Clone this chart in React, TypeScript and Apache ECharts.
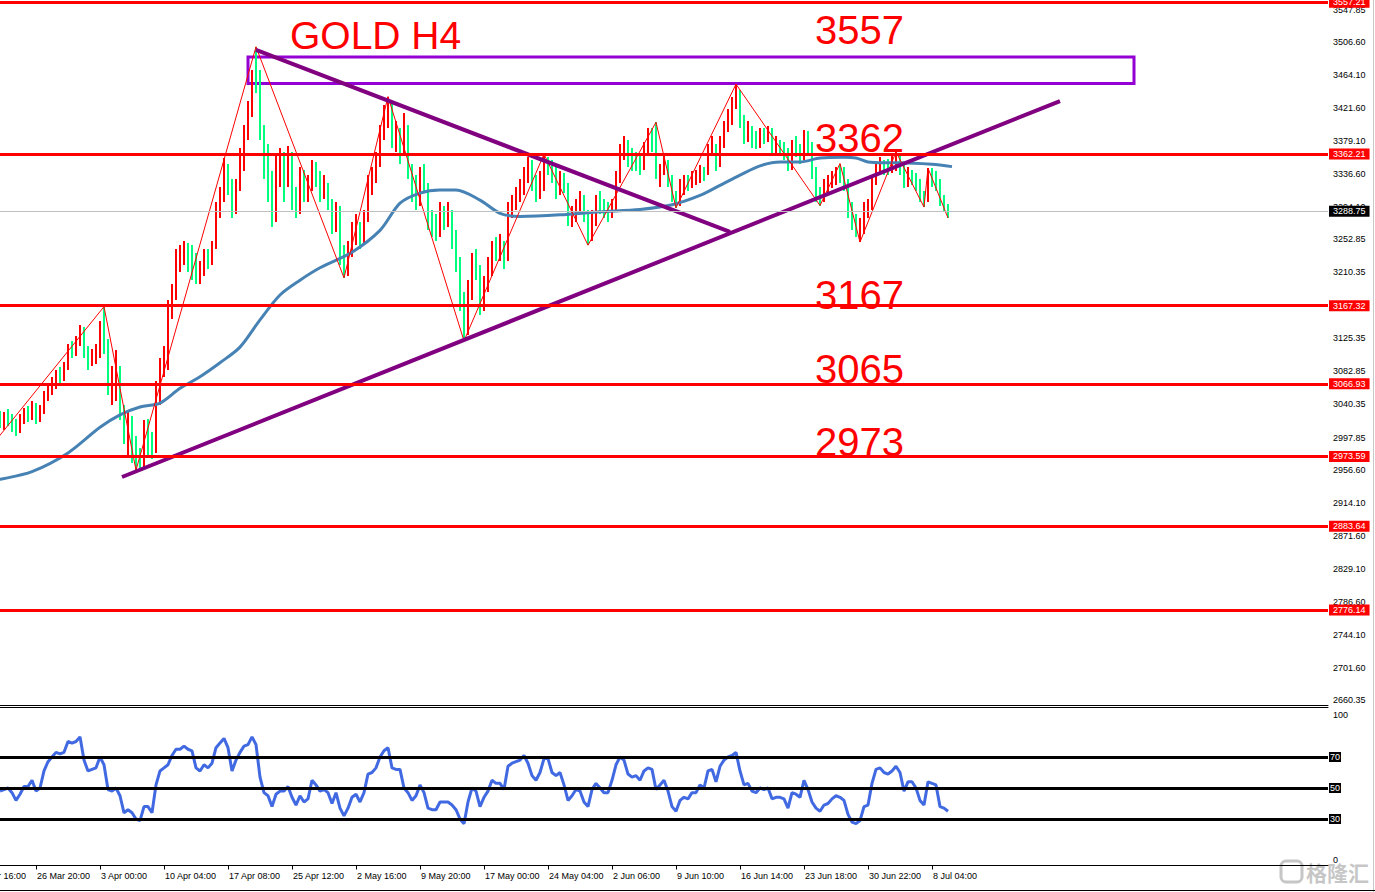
import React, { useEffect, useRef } from "react";
import * as echarts from "echarts";

// ---------- data ----------
const OFFSET = 8; // category index of first visible bar
const N_CATS = 341;

const opens = [3025,3015,3026,3020,3012,3005,3022,3030,3025,3040,3020,3032,3055,3062,3070,3080,3076,3090,3112,3108,3122,3138,3110,3095,3100,3108,3140,3120,3060,3078,3085,3030,2995,3015,2990,2965,2962,3010,2990,2978,3060,3090,3105,3165,3185,3230,3235,3245,3230,3225,3200,3205,3230,3222,3240,3290,3310,3345,3320,3290,3320,3360,3390,3420,3465,3450,3390,3345,3320,3280,3340,3350,3345,3360,3305,3288,3330,3310,3320,3348,3335,3315,3320,3300,3270,3290,3235,3210,3240,3262,3270,3250,3280,3325,3335,3355,3390,3415,3425,3380,3385,3365,3395,3340,3320,3300,3335,3320,3275,3265,3262,3285,3280,3285,3255,3225,3175,3135,3190,3225,3215,3170,3195,3215,3240,3235,3238,3225,3290,3300,3310,3320,3338,3350,3325,3310,3318,3348,3345,3335,3315,3325,3322,3280,3282,3295,3305,3285,3255,3280,3300,3298,3288,3285,3295,3335,3365,3375,3355,3350,3348,3345,3370,3385,3375,3335,3342,3350,3330,3305,3298,3320,3325,3322,3332,3333,3340,3338,3368,3372,3345,3378,3398,3410,3428,3435,3405,3385,3390,3380,3378,3388,3385,3390,3368,3372,3370,3365,3345,3370,3368,3360,3388,3372,3340,3310,3302,3320,3325,3332,3340,3335,3325,3290,3272,3262,3268,3292,3295,3330,3345,3348,3342,3340,3348,3355,3345,3322,3335,3332,3325,3305,3300,3335,3332,3328,3300,3292];
const closes = [3015,3026,3020,3012,3005,3022,3030,3025,3040,3020,3032,3055,3062,3070,3080,3076,3090,3112,3108,3122,3138,3110,3095,3100,3108,3140,3120,3060,3078,3085,3030,2995,3015,2990,2965,2962,3010,2990,2978,3060,3090,3105,3165,3185,3230,3235,3245,3230,3225,3200,3205,3230,3222,3240,3290,3310,3345,3320,3290,3320,3360,3390,3420,3465,3450,3390,3345,3320,3280,3340,3350,3345,3360,3305,3288,3330,3310,3320,3348,3335,3315,3320,3300,3270,3290,3235,3210,3240,3262,3270,3250,3280,3325,3335,3355,3390,3415,3425,3380,3385,3365,3395,3340,3320,3300,3335,3320,3275,3265,3262,3285,3280,3285,3255,3225,3175,3135,3190,3225,3215,3170,3195,3215,3240,3235,3238,3225,3290,3300,3310,3320,3338,3350,3325,3310,3318,3348,3345,3335,3315,3325,3322,3280,3282,3295,3305,3285,3255,3280,3300,3298,3288,3285,3295,3335,3365,3375,3355,3350,3348,3345,3370,3385,3375,3335,3342,3350,3330,3305,3298,3320,3325,3322,3332,3333,3340,3338,3368,3372,3345,3378,3398,3410,3428,3435,3405,3385,3390,3380,3378,3388,3385,3390,3368,3372,3370,3365,3345,3370,3368,3360,3388,3372,3340,3310,3302,3320,3325,3332,3340,3335,3325,3290,3272,3262,3268,3292,3295,3330,3345,3348,3342,3340,3348,3355,3345,3322,3335,3332,3325,3305,3300,3335,3332,3328,3300,3292,3288.75];
const lows = [3010,3008,3012,3005,3000,3004,3015,3018,3020,3015,3018,3028,3045,3052,3060,3068,3070,3085,3100,3102,3115,3100,3085,3090,3092,3100,3105,3052,3040,3045,3020,2990,2975,2965,2956,2958,2960,2975,2970,2978,3040,3075,3085,3150,3175,3210,3220,3210,3200,3195,3195,3205,3215,3220,3240,3280,3300,3310,3280,3285,3315,3340,3380,3410,3440,3380,3330,3300,3268,3275,3320,3300,3320,3290,3280,3285,3300,3300,3315,3320,3300,3305,3290,3260,3262,3220,3203,3205,3230,3245,3240,3248,3275,3310,3325,3345,3380,3395,3370,3365,3350,3360,3330,3300,3290,3295,3315,3265,3255,3250,3255,3265,3268,3240,3210,3160,3122,3130,3175,3200,3155,3160,3185,3205,3225,3225,3215,3225,3280,3290,3300,3310,3325,3315,3300,3305,3315,3335,3325,3305,3310,3312,3270,3268,3275,3285,3275,3245,3250,3270,3285,3280,3275,3280,3290,3325,3355,3345,3340,3340,3335,3342,3360,3365,3330,3320,3335,3320,3300,3293,3295,3310,3315,3318,3322,3325,3328,3335,3360,3340,3345,3370,3390,3400,3420,3395,3375,3378,3370,3368,3370,3375,3378,3360,3360,3362,3355,3340,3342,3358,3350,3355,3360,3330,3300,3296,3300,3310,3318,3322,3325,3315,3280,3265,3255,3249,3260,3280,3290,3322,3335,3335,3335,3338,3340,3335,3318,3320,3322,3315,3300,3294,3300,3320,3315,3295,3288,3280];
const highs = [3032,3030,3035,3028,3022,3028,3036,3038,3045,3042,3040,3058,3068,3075,3085,3088,3095,3118,3122,3128,3142,3140,3115,3112,3118,3148,3166,3125,3090,3110,3090,3040,3030,3025,3000,2985,3020,3022,3005,3070,3100,3115,3175,3195,3240,3245,3250,3248,3245,3235,3225,3240,3240,3250,3300,3320,3357,3350,3330,3330,3370,3400,3430,3470,3500,3470,3400,3375,3340,3360,3370,3365,3372,3365,3320,3345,3342,3335,3355,3352,3340,3335,3325,3305,3300,3295,3245,3250,3275,3285,3275,3290,3335,3345,3365,3400,3425,3436,3430,3405,3395,3415,3400,3350,3335,3345,3350,3325,3290,3285,3300,3295,3300,3290,3265,3230,3185,3200,3235,3240,3220,3205,3230,3250,3255,3260,3250,3300,3310,3320,3330,3345,3358,3355,3335,3340,3362,3358,3355,3345,3340,3338,3325,3295,3305,3315,3310,3290,3290,3310,3315,3305,3300,3305,3340,3375,3385,3380,3370,3365,3360,3378,3395,3395,3403,3350,3360,3355,3335,3315,3330,3335,3335,3340,3342,3348,3345,3375,3385,3375,3385,3405,3420,3435,3452,3445,3412,3405,3398,3392,3395,3395,3398,3395,3385,3380,3378,3370,3380,3385,3375,3393,3392,3378,3345,3320,3330,3335,3340,3345,3350,3345,3330,3300,3285,3280,3300,3305,3335,3352,3358,3355,3356,3360,3365,3360,3350,3345,3342,3338,3330,3315,3344,3344,3340,3330,3310,3298];

const rsiValues = [48,49,50,47,42,46,51,51,55,48,50,61,67,70,73,72,73,80,79,80,83,68,61,62,63,70,65,49,48,50,45,34,36,34,30,29,38,38,34,52,61,63,65,71,75,75,77,75,74,63,61,65,63,66,76,79,82,76,61,68,73,77,78,83,78,57,47,45,38,46,48,48,51,44,39,45,41,43,55,52,48,49,47,40,47,37,32,37,44,46,41,47,59,60,63,70,74,76,63,62,62,50,47,42,45,52,47,37,36,36,41,41,41,39,36,30,27,41,50,48,38,44,48,55,53,53,49,64,66,67,68,71,66,58,55,60,69,69,60,58,60,52,42,45,49,48,41,38,49,53,50,47,47,55,65,70,68,59,57,58,55,61,63,62,49,52,55,48,38,35,42,44,43,47,47,52,50,61,62,54,64,68,70,71,73,61,52,53,48,47,50,49,50,43,44,44,43,37,47,46,44,55,49,41,37,35,39,40,43,45,44,42,33,28,27,29,38,39,53,62,63,60,59,61,64,60,48,54,54,50,42,39,54,53,52,38,37,35];

const maBars = [-8,0,8,17,25,30,35,40,45,50,55,60,65,70,75,80,88,95,100,105,110,114,120,125,130,140,150,160,168,175,180,185,190,195,200,205,211,214,217,221,225,233,238];
const maValues = [2936,2944,2954,2978,3011,3027,3037,3042,3061,3076,3094,3114,3149,3181,3200,3216,3236,3264,3299,3312,3316,3316,3303,3286,3282,3284,3288,3291,3297,3309,3322,3335,3347,3352,3352,3357,3358,3357,3352,3351,3351,3349,3346];

const zigzagBars = [-2,26,34,64,86,97,116,136,147,164,169,184,205,210,215,224,231,232,237];
const zigzagPrices = [2988,3166,2956,3500,3203,3436,3122,3362,3245,3403,3293,3452,3296,3350,3249,3365,3294,3344,3280];

const levelPrices = [3557.21, 3362.21, 3167.32, 3066.93, 2973.59, 2883.64, 2776.14];
const currentPrice = 3288.75;
const priceTicks = [3547.85,3506.6,3464.1,3421.6,3379.1,3336.6,3294.1,3252.85,3210.35,3167.85,3125.35,3082.85,3040.35,2997.85,2956.6,2914.1,2871.6,2829.1,2786.6,2744.1,2701.6,2660.35];
const rsiLevels = [70, 50, 30];
const rsiTicks = [0, 100];

const xTickLabels = ["20 Mar 16:00","26 Mar 20:00","3 Apr 00:00","10 Apr 04:00","17 Apr 08:00","25 Apr 12:00","2 May 16:00","9 May 20:00","17 May 00:00","24 May 04:00","2 Jun 06:00","9 Jun 10:00","16 Jun 14:00","23 Jun 18:00","30 Jun 22:00","8 Jul 04:00"];
const xTickFirst = 1;
const xTickStep = 16;

// trendlines & box in bar units [bar, price]
const descLine = [[64, 3495.9], [182.5, 3262.0]];
const ascLine = [[30.5, 2947.1], [265, 3430.3]];
const boxCorners = [[62, 3486.9], [283.5, 3452.8]];

const titleText = "GOLD H4";
const levelTexts = ["3557", "3362", "3167", "3065", "2973"];

export default function App() {
  const ref = useRef<HTMLDivElement>(null);
  useEffect(() => {
    if (!ref.current) return;
    const chart = echarts.init(ref.current, undefined, { renderer: "svg" });
    const FONT = '"Liberation Sans", Arial, sans-serif';
    const cats = Array.from({ length: N_CATS }, (_, i) => String(i));
    const labelMap = new Map<number, string>();
    xTickLabels.forEach((t, j) => labelMap.set(xTickFirst + j * xTickStep, t));
    const candleData = opens.map((o, k) => [k + OFFSET, o, closes[k], lows[k], highs[k]]);
    const rsiData = rsiValues.map((v, k) => [k + OFFSET, v]);
    const maData = maBars.map((b, j) => [b + OFFSET, maValues[j]]);
    const zzData = zigzagBars.map((b, j) => [b + OFFSET, zigzagPrices[j]]);
    const toIdx = (p: number[]) => [p[0] + OFFSET, p[1]];

    const redLabel = (bg: string) => ({
      show: true,
      position: "end",
      distance: 1,
      formatter: (p: any) => Number(p.value).toFixed(2),
      backgroundColor: bg,
      color: "#fff",
      fontSize: 9,
      fontFamily: FONT,
      padding: [1, 4, 1, 4],
      lineHeight: 9,
    });

    const yLabelY = [29.5, 137.5, 294.5, 368.5, 441.5];

    const option: any = {
      animation: false,
      backgroundColor: "#fff",
      grid: [
        { left: -32, width: 1360, top: 0, height: 705, outerBoundsMode: "none", containLabel: false },
        { left: -32, width: 1360, top: 707, height: 159, outerBoundsMode: "none", containLabel: false },
      ],
      xAxis: [
        {
          type: "category", gridIndex: 0, data: cats, boundaryGap: false,
          axisLine: { show: true, lineStyle: { color: "#000", width: 1 } },
          axisTick: { show: false }, axisLabel: { show: false }, splitLine: { show: false },
        },
        { type: "value", gridIndex: 0, min: 0, max: N_CATS - 1, show: false },
        {
          type: "category", gridIndex: 1, data: cats, boundaryGap: false,
          axisLine: { show: true, lineStyle: { color: "#000", width: 1 } },
          axisTick: { show: true, interval: (i: number) => labelMap.has(i), length: 4, lineStyle: { color: "#000" } },
          axisLabel: {
            show: true, interval: (i: number) => labelMap.has(i),
            formatter: (_v: string, i: number) => labelMap.get(i) || "",
            align: "left", fontSize: 9, fontFamily: FONT, color: "#000", margin: 5, padding: [0, 0, 0, 1],
            hideOverlap: false,
          },
          splitLine: { show: false },
        },
        {
          type: "value", gridIndex: 1, min: 0, max: N_CATS - 1, position: "top",
          axisLine: { show: true, onZero: false, lineStyle: { color: "#000", width: 1 } },
          axisTick: { show: false }, axisLabel: { show: false }, splitLine: { show: false },
        },
      ],
      yAxis: [
        {
          type: "value", gridIndex: 0, position: "right", min: 2654.07, max: 3560.13,
          axisLine: { show: true, lineStyle: { color: "#000", width: 1 } },
          axisTick: { show: true, customValues: priceTicks, length: 4, lineStyle: { color: "#000" } },
          axisLabel: {
            show: true, customValues: priceTicks, formatter: (v: number) => v.toFixed(2),
            fontSize: 9, fontFamily: FONT, color: "#000", margin: 5,
          },
          splitLine: { show: false },
        },
        {
          type: "value", gridIndex: 1, position: "right", min: -0.32, max: 102.26,
          axisLine: { show: true, lineStyle: { color: "#000", width: 1 } },
          axisTick: { show: false },
          axisLabel: {
            show: true, customValues: rsiTicks, margin: 5,
            formatter: (v: number) => (v >= 100 ? "{t|100}" : "{b|0}"),
            rich: {
              t: { fontSize: 9, fontFamily: FONT, color: "#000", padding: [9, 0, 0, 0] },
              b: { fontSize: 9, fontFamily: FONT, color: "#000", padding: [0, 0, 11, 0] },
            },
          },
          splitLine: { show: false },
        },
      ],
      series: [
        {
          type: "custom", xAxisIndex: 0, yAxisIndex: 0,
          data: candleData, encode: { x: 0, y: [3, 4] },
          clip: true, z: 2,
          renderItem: (_params: any, api: any) => {
            const i = api.value(0);
            const o = api.value(1);
            const c = api.value(2);
            const top = api.coord([i, api.value(4)]);
            const bot = api.coord([i, api.value(3)]);
            return {
              type: "rect",
              shape: { x: Math.round(top[0]) - 1, y: Math.round(top[1]), width: 2, height: Math.max(1, Math.round(bot[1]) - Math.round(top[1])) },
              style: { fill: c >= o ? "#FF0000" : "#00FF7F" },
            };
          },
          markLine: {
            silent: true, symbol: "none", z: 6,
            data: [
              ...levelPrices.map((v) => ({
                yAxis: v, lineStyle: { color: "#FF0000", width: 3, type: "solid" }, label: redLabel("#FF0000"),
              })),
              { yAxis: currentPrice, lineStyle: { color: "#C0C0C0", width: 1, type: "solid" }, label: redLabel("#000000") },
            ],
          },
        },
        {
          type: "line", xAxisIndex: 1, yAxisIndex: 0, data: maData, smooth: 0.3,
          symbol: "none", lineStyle: { color: "#4682B4", width: 3 }, z: 3,
        },
        {
          type: "line", xAxisIndex: 1, yAxisIndex: 0, data: zzData,
          symbol: "none", lineStyle: { color: "#FF0000", width: 1 }, z: 4,
        },
        {
          type: "line", xAxisIndex: 1, yAxisIndex: 0, data: descLine.map(toIdx),
          symbol: "none", lineStyle: { color: "#800080", width: 4 }, z: 5,
          markArea: {
            silent: true,
            itemStyle: { color: "rgba(0,0,0,0)", borderColor: "#9400D3", borderWidth: 3 },
            data: [[{ coord: toIdx(boxCorners[0]) }, { coord: toIdx(boxCorners[1]) }]],
          },
        },
        {
          type: "line", xAxisIndex: 1, yAxisIndex: 0, data: ascLine.map(toIdx),
          symbol: "none", lineStyle: { color: "#800080", width: 4 }, z: 5,
        },
        {
          type: "line", xAxisIndex: 3, yAxisIndex: 1, data: rsiData,
          symbol: "none", lineStyle: { color: "#4169E1", width: 3 }, z: 4,
          markLine: {
            silent: true, symbol: "none",
            data: rsiLevels.map((v) => ({ yAxis: v })),
            lineStyle: { color: "#000", width: 3, type: "solid" },
            label: {
              show: true, position: "end", distance: 1, formatter: (p: any) => String(p.value),
              backgroundColor: "#000", color: "#fff", fontSize: 9, fontFamily: FONT, padding: [1, 1, 0, 1], lineHeight: 9,
            },
          },
        },
      ],
      graphic: [
        { type: "text", x: 290, y: 35, style: { text: titleText, fill: "#FF0000", font: `39px ${FONT}`, verticalAlign: "middle" } },
        ...levelTexts.map((t, j) => ({
          type: "text", x: 815, y: yLabelY[j], style: { text: t, fill: "#FF0000", font: `40px ${FONT}`, verticalAlign: "middle" },
        })),
        { type: "line", shape: { x1: 1373.5, y1: 0, x2: 1373.5, y2: 892 }, style: { stroke: "#C8C8C8", lineWidth: 1 } },
        { type: "line", shape: { x1: 0, y1: 890.5, x2: 1375, y2: 890.5 }, style: { stroke: "#000", lineWidth: 1 } },
        {
          type: "rect", x: 1281, y: 861, shape: { width: 21, height: 21, r: 5 },
          style: { fill: "none", stroke: "rgba(160,160,160,0.6)", lineWidth: 3 },
        },
        {
          type: "text", x: 1306, y: 872,
          style: { text: "格隆汇", fill: "rgba(160,160,160,0.6)", font: 'bold 21px "Noto Sans CJK SC"', verticalAlign: "middle" },
        },
      ],
    };
    chart.setOption(option);
    return () => chart.dispose();
  }, []);
  return (
    <div style={{ position: "fixed", left: 0, top: 0, width: 1375, height: 892, background: "#fff" }}>
      <div ref={ref} style={{ width: 1375, height: 892 }} />
    </div>
  );
}
